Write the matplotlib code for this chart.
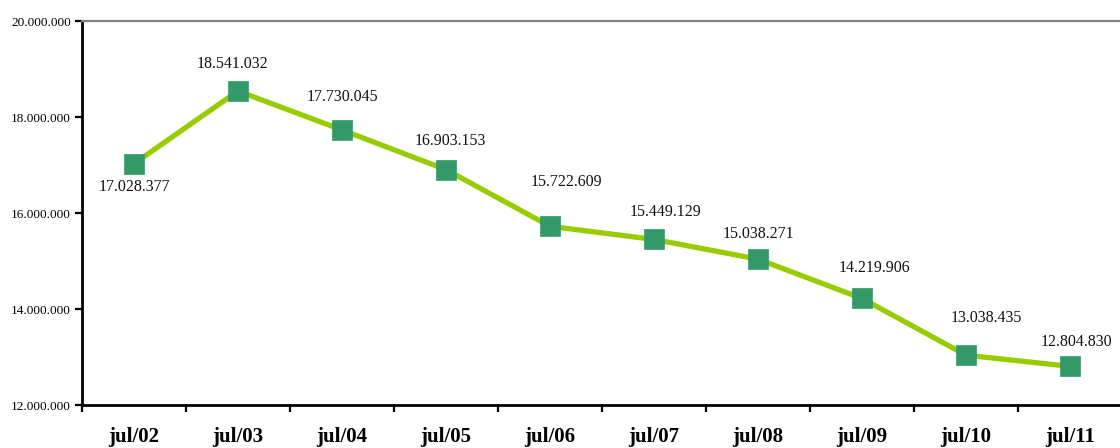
import matplotlib.pyplot as plt
import numpy as np
from matplotlib.ticker import FuncFormatter

# annual values, July of each year
periods = ['jul/02', 'jul/03', 'jul/04', 'jul/05', 'jul/06',
           'jul/07', 'jul/08', 'jul/09', 'jul/10', 'jul/11']
values = [17028377, 18541032, 17730045, 16903153, 15722609,
          15449129, 15038271, 14219906, 13038435, 12804830]

# label placement relative to each marker (pixels)
label_dx = [0, -6, 0, 4, 16, 12, 0, 12, 20, 6]
label_dy = [-23, 27, 33, 29, 44, 27, 25, 30, 37, 24]


def dotted(v, pos=None):
    return '{:,.0f}'.format(v).replace(',', '.')


plt.rcParams['font.family'] = ['Liberation Serif', 'DejaVu Serif']

fig = plt.figure(figsize=(11.2, 4.48), dpi=100)
ax = fig.add_axes([82 / 1120, 43 / 448, 1040 / 1120, 384 / 448])

x = np.arange(len(values))
ax.plot(x, values, color='#99cc00', lw=3.8, zorder=2)
ax.plot(x, values, ls='none', marker='s', ms=14.5, mfc='#339966',
        mec='#339966', mew=0.5, zorder=3)

for i, v in enumerate(values):
    ax.annotate(dotted(v), (x[i], v), xytext=(label_dx[i], label_dy[i]),
                textcoords='offset pixels', ha='center', va='center',
                fontsize=11.5, color='#111111')

ax.set_xlim(-0.5, len(values) - 0.5)
ax.set_ylim(12000000, 20000000)
ax.set_yticks(np.arange(12000000, 20000001, 2000000))
ax.yaxis.set_major_formatter(FuncFormatter(dotted))

ax.set_xticks(x)
ax.set_xticklabels(periods, fontsize=15, fontweight='bold')
ax.set_xticks(np.arange(-0.5, len(values), 1.0), minor=True)
ax.tick_params(axis='x', which='major', length=0, pad=16)
ax.tick_params(axis='x', which='minor', length=5, width=1.6, direction='out')
ax.tick_params(axis='y', length=5, width=1.6, labelsize=9.5, pad=3)

for side in ['left', 'bottom']:
    ax.spines[side].set_linewidth(2)
    ax.spines[side].set_color('black')
ax.spines['top'].set_color('#808080')
ax.spines['top'].set_linewidth(1.6)
ax.spines['right'].set_color('#dddddd')
ax.spines['right'].set_linewidth(1)

plt.savefig('out.png', dpi=100)
